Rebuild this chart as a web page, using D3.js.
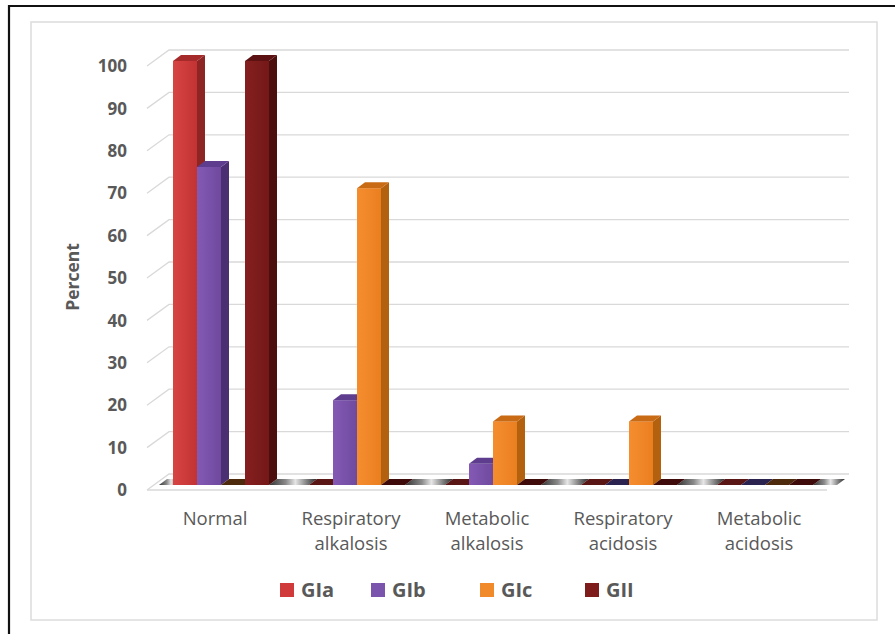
<!DOCTYPE html>
<html>
<head>
<meta charset="utf-8">
<script src="https://cdn.jsdelivr.net/npm/d3@7"></script>
<style>
  html, body { margin: 0; padding: 0; background: #fff; }
  svg { display: block; }
  text { font-family: "Open Sans", "Noto Sans", sans-serif; fill: #595959; }
</style>
</head>
<body>
<svg id="chart" width="895" height="634"></svg>
<script>
// Acid-base status by group (percent of patients)
const categories = ["Normal", "Respiratory alkalosis", "Metabolic alkalosis", "Respiratory acidosis", "Metabolic acidosis"];
const seriesNames = ["GIa", "GIb", "GIc", "GII"];
const valuesGIa = [100, 0, 0, 0, 0];
const valuesGIb = [75, 20, 5, 0, 0];
const valuesGIc = [0, 70, 15, 15, 0];
const valuesGII = [100, 0, 0, 0, 0];
const yTicks = [0, 10, 20, 30, 40, 50, 60, 70, 80, 90, 100];

const seriesValues = [valuesGIa, valuesGIb, valuesGIc, valuesGII];
const palette = {
  GIa: { front: ["#d84444", "#c33333"], side: "#8e2525", top: "#a52b2b", zero: "#5a1515", key: "#d03a3a" },
  GIb: { front: ["#8459b5", "#6f4a9e"], side: "#4b2f73", top: "#5e3d8e", zero: "#2a2350", key: "#7b55ad" },
  GIc: { front: ["#f58d2e", "#ea7f20"], side: "#b3600f", top: "#c96b14", zero: "#4e2a0c", key: "#f08a2a" },
  GII: { front: ["#851f1f", "#751818"], side: "#4d0e0e", top: "#5c1212", zero: "#3e0a0a", key: "#7e1c1c" }
};

const svg = d3.select("#chart");
const defs = svg.append("defs");

// Frames
svg.append("path").attr("d", "M9,640 L9,6 L900,6")
  .attr("fill", "none").attr("stroke", "#111").attr("stroke-width", 2.2);
svg.append("rect").attr("x", 31).attr("y", 22).attr("width", 846).attr("height", 598)
  .attr("fill", "none").attr("stroke", "#dcdcdc").attr("stroke-width", 1.5);

// Projection: front plane scales plus a depth vector for the back wall
const x = d3.scaleBand().domain(categories).range([147, 827]);
const y = d3.scaleLinear().domain([0, 100]).range([490, 66]);
const inner = d3.scaleBand().domain(seriesNames).range([-48, 48]);
const wall = { dx: 22, dy: -16 };
const barOff = { dx: 6, dy: -5 };
const barDepth = { dx: 8, dy: -6 };

const [x0, x1] = x.range();

// Gridlines: diagonal on the side, horizontal on the back wall
const grid = svg.append("g").attr("stroke", "#d9d9d9").attr("stroke-width", 1.3).attr("fill", "none");
yTicks.forEach(t => {
  const yy = y(t);
  grid.append("path")
    .attr("d", `M${x0},${yy} L${x0 + wall.dx},${yy + wall.dy} L${x1 + wall.dx},${yy + wall.dy}`);
});
// Front edge of the floor
grid.append("path").attr("d", `M${x0},${y(0)} L${x1},${y(0)}`);

// Floor strip under the bars
const stripFront = y(0) + barOff.dy;
const gapGrad = defs.append("linearGradient").attr("id", "gapGrad")
  .attr("x1", "0").attr("x2", "1").attr("y1", "0").attr("y2", "0");
[["0", "#333"], ["0.35", "#8a8a8a"], ["0.55", "#e6e6e6"], ["0.8", "#7a7a7a"], ["1", "#2a2a2a"]]
  .forEach(([o, c]) => gapGrad.append("stop").attr("offset", o).attr("stop-color", c));

function para(xa, xb, yb, d) {
  return `M${xa},${yb} L${xb},${yb} L${xb + d.dx},${yb + d.dy} L${xa + d.dx},${yb + d.dy} Z`;
}

// Gaps between groups (and the ends)
const gaps = [];
let prev = x0 + barOff.dx + 6;
categories.forEach(c => {
  const cx = x(c) + x.bandwidth() / 2 + barOff.dx;
  gaps.push([prev, cx + inner.range()[0]]);
  prev = cx + inner.range()[1];
});
gaps.push([prev, x1 + barOff.dx + 4]);
svg.append("g").selectAll("path").data(gaps).join("path")
  .attr("d", g => para(g[0], g[1], stripFront, barDepth))
  .attr("fill", "url(#gapGrad)");

// Front-face gradients
seriesNames.forEach(s => {
  const g = defs.append("linearGradient").attr("id", "front-" + s)
    .attr("x1", "0").attr("x2", "1").attr("y1", "0").attr("y2", "0");
  g.append("stop").attr("offset", "0").attr("stop-color", palette[s].front[0]);
  g.append("stop").attr("offset", "1").attr("stop-color", palette[s].front[1]);
});

// Bars
const barData = [];
categories.forEach((c, ci) => {
  seriesNames.forEach((s, si) => {
    barData.push({ cat: c, series: s, value: seriesValues[si][ci] });
  });
});

const bars = svg.append("g").selectAll("g").data(barData).join("g");
bars.each(function (d) {
  const g = d3.select(this);
  const xl = x(d.cat) + x.bandwidth() / 2 + inner(d.series) + barOff.dx;
  const xr = xl + inner.bandwidth();
  const yb = y(0) + barOff.dy;
  const yt = y(d.value) + barOff.dy;
  const col = palette[d.series];
  if (d.value === 0) {
    g.append("path").attr("d", para(xl, xr, yb, barDepth)).attr("fill", col.zero);
    return;
  }
  // front face
  g.append("rect").attr("x", xl).attr("y", yt).attr("width", xr - xl).attr("height", yb - yt)
    .attr("fill", `url(#front-${d.series})`);
  // side face
  g.append("path")
    .attr("d", `M${xr},${yb} L${xr},${yt} L${xr + barDepth.dx},${yt + barDepth.dy} L${xr + barDepth.dx},${yb + barDepth.dy} Z`)
    .attr("fill", col.side);
  // top face
  g.append("path").attr("d", para(xl, xr, yt, barDepth)).attr("fill", col.top);
});

// Value axis labels
svg.append("g").selectAll("text").data(yTicks).join("text")
  .attr("x", 127).attr("y", d => y(d)).attr("dy", "0.36em")
  .attr("text-anchor", "end")
  .style("font-size", "17px").style("font-weight", "700")
  .text(d => d);

// Axis title
svg.append("text")
  .attr("transform", "translate(79,277) rotate(-90)")
  .attr("text-anchor", "middle")
  .style("font-size", "17.5px").style("font-weight", "700")
  .text("Percent");

// Category labels, wrapped onto two lines
const catLabels = svg.append("g").selectAll("text").data(categories).join("text")
  .attr("text-anchor", "middle")
  .style("font-size", "18.5px");
catLabels.each(function (c) {
  const t = d3.select(this);
  const cx = x(c) + x.bandwidth() / 2;
  c.split(" ").forEach((w, i) => {
    t.append("tspan").attr("x", cx).attr("y", 525 + i * 25).text(w);
  });
});

// Legend
const legendX = [280, 371, 480, 585];
const legend = svg.append("g").selectAll("g").data(seriesNames).join("g")
  .attr("transform", (d, i) => `translate(${legendX[i]},583)`);
legend.append("rect").attr("width", 14).attr("height", 14)
  .attr("fill", d => palette[d].key);
legend.append("text").attr("x", 21).attr("y", 7).attr("dy", "0.36em")
  .style("font-size", "20px").style("font-weight", "700")
  .text(d => d);
</script>
</body>
</html>
